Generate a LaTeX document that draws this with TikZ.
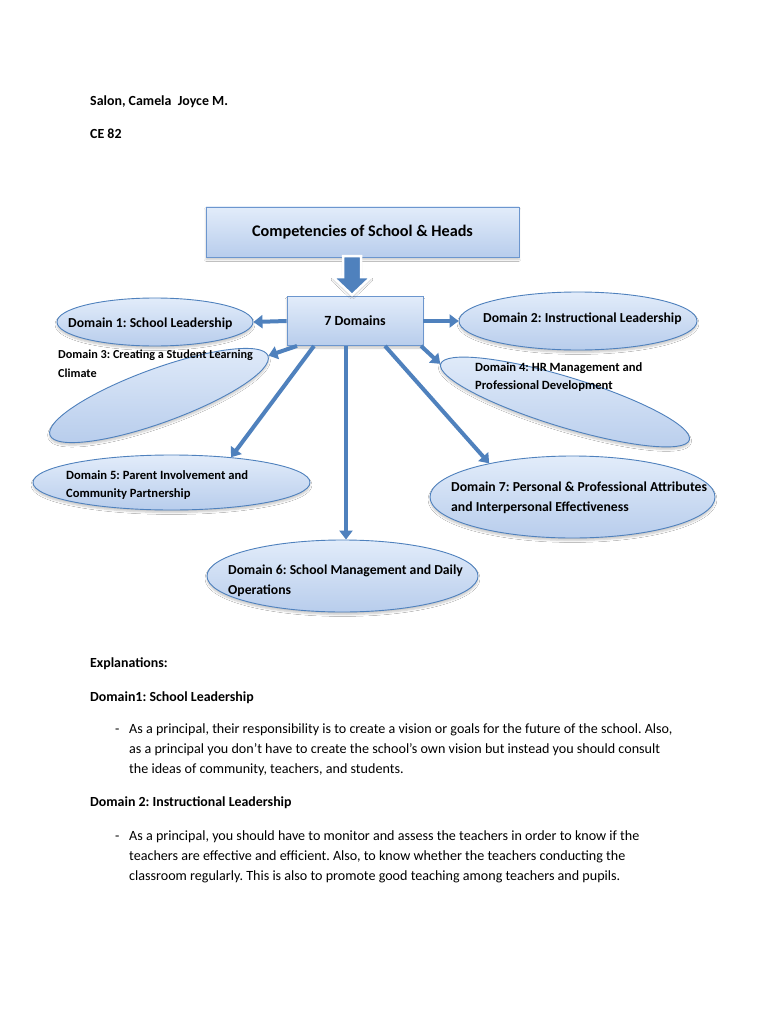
\documentclass[tikz,border=0pt]{standalone}
\usepackage{fontspec}
\setmainfont{Carlito}
\usetikzlibrary{shapes.geometric,arrows.meta,shadows.blur}
\definecolor{ablue}{RGB}{79,129,189}
\definecolor{etop}{RGB}{226,236,250}
\definecolor{ebot}{RGB}{184,205,236}
\definecolor{eline}{RGB}{79,129,189}
\definecolor{bline}{RGB}{108,150,206}
\frenchspacing
\begin{document}
\begin{tikzpicture}[x=1pt,y=-1pt,
  shd/.style={blur shadow={shadow blur steps=6, shadow xshift=0pt, shadow yshift=-2.5pt, shadow opacity=22}},
  ell/.style={ellipse, draw=eline, line width=0.9pt, top color=etop, bottom color=ebot, inner sep=0pt, shd},
  boxn/.style={rectangle, draw=bline, line width=0.9pt, top color=etop, bottom color=ebot, inner sep=0pt, shd},
  arr/.style={draw=ablue, line width=4pt, -{Triangle[width=13pt,length=9pt]}},
  txt/.style={anchor=base west, inner sep=0pt, font=\fontsize{14.1}{16}\selectfont},
  btxt/.style={anchor=base west, inner sep=0pt, font=\fontsize{13.9}{16}\selectfont\bfseries},
  dtxt/.style={anchor=base west, inner sep=0pt, font=\fontsize{13.7}{16}\selectfont\bfseries},
  stxt/.style={anchor=base west, inner sep=0pt, font=\fontsize{12.6}{15}\selectfont\bfseries},
  xtxt/.style={anchor=base west, inner sep=0pt, font=\fontsize{12.2}{15}\selectfont\bfseries}
]
\fill[white] (0,0) rectangle (768,1024);
\useasboundingbox (0,0) rectangle (768,1024);

% header
\node[btxt] (name) at (90,106) {Salon, Camela\ \ Joyce M.};
\node[btxt] (ce) at (90,139) {CE 82};

% boxes
\node[boxn, minimum width=313pt, minimum height=50pt, font=\fontsize{16.2}{19}\selectfont\bfseries] (title) at (362.5,232) {Competencies of School \& Heads};
\node[boxn, minimum width=136pt, minimum height=49pt, font=\fontsize{14}{17}\selectfont\bfseries] (dom) at (355,321) {7 Domains};

% block arrow
\draw[fill=ablue, draw=white, line width=2.5pt, line join=miter, shd]
  (343,256) -- (361,256) -- (361,277) -- (371,277) -- (352,295) -- (333,277) -- (343,277) -- cycle;

% ellipses
\node[ell, minimum width=196pt, minimum height=48pt] (e1) at (155,322) {};
\node[ell, minimum width=238pt, minimum height=58pt] (e2) at (578,321) {};
\node[ell, rotate=20, minimum width=232pt, minimum height=54pt] (e3) at (159,395.5) {};
\node[ell, rotate=-17, minimum width=260pt, minimum height=50pt] (e4) at (565,402) {};
\node[ell, minimum width=277pt, minimum height=55pt] (e5) at (171.5,482.5) {};
\node[ell, minimum width=271pt, minimum height=72pt] (e6) at (342.5,576) {};
\node[ell, minimum width=285pt, minimum height=82pt] (e7) at (572.5,497) {};

% ellipse texts
\node[dtxt] (t1) at (68,327.4) {Domain 1: School Leadership};
\node[dtxt] (t2) at (483,322.5) {Domain 2: Instructional Leadership};
\node[xtxt] (t3a) at (58,358) {Domain 3: Creating a Student Learning};
\node[xtxt] (t3b) at (58,377) {Climate};
\node[stxt] (t4a) at (475,371) {Domain 4: HR Management and};
\node[stxt] (t4b) at (475,389) {Professional Development};
\node[stxt] (t5a) at (66,479) {Domain 5: Parent Involvement and};
\node[stxt] (t5b) at (66,497) {Community Partnership};
\node[dtxt] (t6a) at (228,574.5) {Domain 6: School Management and Daily};
\node[dtxt] (t6b) at (228,594.5) {Operations};
\node[dtxt] (t7a) at (451,491.5) {Domain 7: Personal \& Professional Attributes};
\node[dtxt] (t7b) at (451,511.5) {and Interpersonal Effectiveness};

% connectors
\draw[arr] (dom.west) -- (e1.east);
\draw[arr] (dom.east) -- (e2.west);
\draw[arr] ([xshift=-58pt]dom.south) -- (e3.east);
\draw[arr] ([xshift=66pt]dom.south) -- (e4.west);
\draw[arr] ([xshift=-41pt]dom.south) -- (e5.23);
\draw[arr] ([xshift=-9pt]dom.south) -- ([xshift=-9pt]dom.south |- e6.north);
\draw[arr] ([xshift=30pt]dom.south) -- (e7.158);

% explanations
\node[btxt] (expl) at (90,667) {Explanations:};
\node[btxt] (h1) at (90,701) {Domain1: School Leadership};
\node[txt] (dash1) at (115,733) {-};
\node[txt] (p1) at (129,733) {As a principal, their responsibility is to create a vision or goals for the future of the school. Also,};
\node[txt] (p2) at (129,753) {as a principal you don’t have to create the school’s own vision but instead you should consult};
\node[txt] (p3) at (129,773) {the ideas of community, teachers, and students.};
\node[btxt] (h2) at (90,806) {Domain 2: Instructional Leadership};
\node[txt] (dash2) at (115,840) {-};
\node[txt] (p4) at (129,840) {As a principal, you should have to monitor and assess the teachers in order to know if the};
\node[txt] (p5) at (129,860) {teachers are effective and efficient. Also, to know whether the teachers conducting the};
\node[txt] (p6) at (129,880) {classroom regularly. This is also to promote good teaching among teachers and pupils.};
\end{tikzpicture}
\end{document}
